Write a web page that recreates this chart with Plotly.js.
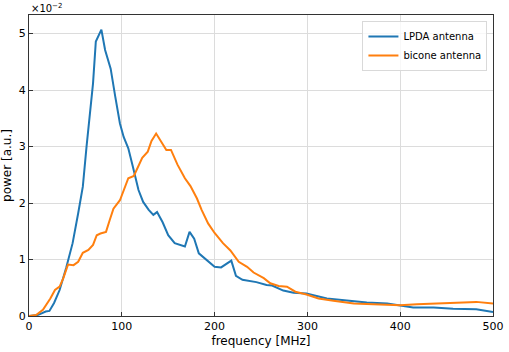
<!DOCTYPE html>
<html>
<head>
<meta charset="utf-8">
<script src="https://cdn.plot.ly/plotly-3.0.1.min.js"></script>
<style>body{margin:0;background:#fff}</style>
</head>
<body>
<div id="chart" style="width:509px;height:352px"></div>
<script>
// power values are in units of 1e-2 a.u. (axis shows x10^-2)
const lpdaFreq = [0, 10, 18, 22, 27, 33, 40, 47, 53, 58, 62, 66, 69, 72, 75, 78, 82, 88, 93, 98,
  102, 107, 112, 118, 123, 129, 134, 138, 144, 150, 157, 163, 168, 173, 178, 183, 191, 200, 207, 213,
  218, 223, 230, 245, 256, 262, 274, 285, 299, 321, 343, 364, 386, 400, 414, 436, 457, 482, 500];
const lpdaPower = [0, 0.02, 0.08, 0.09, 0.23, 0.46, 0.85, 1.29, 1.82, 2.29, 3.0, 3.65, 4.12, 4.86, 4.97, 5.07, 4.71, 4.38, 3.88, 3.41,
  3.17, 2.97, 2.64, 2.23, 2.02, 1.88, 1.79, 1.84, 1.66, 1.43, 1.29, 1.25, 1.23, 1.49, 1.37, 1.11, 0.99, 0.87, 0.86, 0.93,
  0.98, 0.71, 0.64, 0.60, 0.55, 0.54, 0.45, 0.41, 0.40, 0.31, 0.27, 0.24, 0.22, 0.19, 0.15, 0.15, 0.13, 0.12, 0.07];

const biconeFreq = [0, 8, 15, 23, 28, 33, 37, 42, 48, 53, 58, 64, 69, 73, 77, 83, 87, 91, 98, 103,
  107, 113, 118, 122, 128, 132, 137, 143, 148, 153, 160, 168, 174, 181, 186, 193, 200, 209, 217, 226,
  235, 242, 253, 260, 269, 278, 287, 299, 312, 328, 350, 371, 400, 418, 443, 468, 482, 500];
const biconePower = [0, 0.02, 0.11, 0.31, 0.46, 0.52, 0.67, 0.91, 0.90, 0.96, 1.12, 1.17, 1.26, 1.43, 1.46, 1.49, 1.70, 1.90, 2.05, 2.26,
  2.44, 2.48, 2.65, 2.80, 2.91, 3.10, 3.23, 3.06, 2.94, 2.94, 2.68, 2.44, 2.30, 2.08, 1.88, 1.64, 1.47, 1.29, 1.16, 0.96,
  0.87, 0.77, 0.67, 0.58, 0.53, 0.52, 0.43, 0.38, 0.31, 0.27, 0.22, 0.21, 0.19, 0.21, 0.22, 0.24, 0.25, 0.22];

const data = [
  {x: lpdaFreq, y: lpdaPower, mode: 'lines', name: 'LPDA antenna',
   line: {color: '#1f77b4', width: 2}},
  {x: biconeFreq, y: biconePower, mode: 'lines', name: 'bicone antenna',
   line: {color: '#ff7f0e', width: 2}}
];

const font = {family: 'DejaVu Sans', size: 11, color: '#000'};

const layout = {
  width: 509, height: 352,
  margin: {l: 29, r: 16, t: 15, b: 36},
  paper_bgcolor: '#fff', plot_bgcolor: '#fff',
  font: font,
  showlegend: true,
  legend: {x: 0.988, y: 0.98, xanchor: 'right', yanchor: 'top',
    bgcolor: 'rgba(255,255,255,0.8)', bordercolor: '#d9d9d9', borderwidth: 1,
    font: {family: 'DejaVu Sans', size: 10}, tracegroupgap: 0, itemwidth: 30},
  xaxis: {
    range: [0, 500], tickvals: [0, 100, 200, 300, 400, 500],
    ticks: 'inside', ticklen: 4, tickcolor: '#333',
    showline: true, linecolor: '#333', mirror: true, linewidth: 1,
    showgrid: true, gridcolor: '#dcdcdc', gridwidth: 1, zeroline: false,
    title: {text: 'frequency [MHz]', font: {family: 'DejaVu Sans', size: 12}, standoff: 4}
  },
  yaxis: {
    range: [0, 5.33], tickvals: [0, 1, 2, 3, 4, 5],
    ticks: 'inside', ticklen: 4, tickcolor: '#333',
    showline: true, linecolor: '#333', mirror: true, linewidth: 1,
    showgrid: true, gridcolor: '#dcdcdc', gridwidth: 1, zeroline: false,
    title: {text: 'power [a.u.]', font: {family: 'DejaVu Sans', size: 12}, standoff: 6}
  },
  annotations: [{
    xref: 'paper', yref: 'paper', x: 0, y: 1, xanchor: 'left', yanchor: 'top', yshift: 15,
    text: '×10<sup>−2</sup>', showarrow: false, font: {family: 'DejaVu Sans', size: 10}
  }]
};

Plotly.newPlot('chart', data, layout, {displayModeBar: false});
</script>
</body>
</html>
